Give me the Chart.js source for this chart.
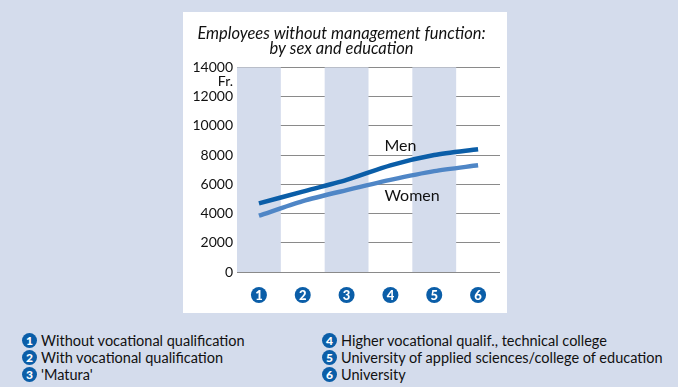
<!DOCTYPE html>
<html>
<head>
<meta charset="utf-8">
<script src="https://cdn.jsdelivr.net/npm/chart.js@4"></script>
<style>
body{margin:0;background:#d4dcec;width:678px;height:387px;position:relative;overflow:hidden;font-family:"Lato","Noto Sans",sans-serif;}
#panel{position:absolute;left:183px;top:12px;width:324px;height:301px;background:#fff;}
.legend{position:absolute;top:332px;font-size:14.5px;color:#111;}
.legend div{display:flex;align-items:center;height:17px;}
.num{display:inline-block;width:15px;height:15px;border-radius:50%;background:#0b5ea8;color:#fff;font-weight:900;font-size:12px;line-height:15px;text-align:center;margin-right:4px;flex:none;}
</style>
</head>
<body>
<div id="panel"><canvas id="myChart" width="324" height="301"></canvas></div>
<div id="legend1" class="legend" style="left:22px"></div>
<div id="legend2" class="legend" style="left:322px"></div>
<script>
// data
let categories = ['1','2','3','4','5','6'];
let categoryNames = ['Without vocational qualification','With vocational qualification',"'Matura'",
	'Higher vocational qualif., technical college','University of applied sciences/college of education','University'];
let men = [4700, 5500, 6300, 7300, 8000, 8400];
let women = [3850, 4850, 5600, 6300, 6900, 7300];
let yTicks = [0, 2000, 4000, 6000, 8000, 10000, 12000, 14000];

// legend below the panel
function fillLegend(el, from, to){
	let html = '';
	for(let i = from; i < to; i++){
		html += '<div><span class="num">' + categories[i] + '</span>' + categoryNames[i] + '</div>';
	}
	el.innerHTML = html;
}
fillLegend(document.querySelector('#legend1'), 0, 3);
fillLegend(document.querySelector('#legend2'), 3, 6);

// shaded columns, circled numbers, line labels
let decorate = {
	id: 'decorate',
	beforeDatasetsDraw(chart){
		let ctx = chart.ctx, area = chart.chartArea, x = chart.scales.x;
		let w = (area.right - area.left) / categories.length;
		ctx.save();
		ctx.fillStyle = '#d4dcec';
		for(let i = 0; i < categories.length; i += 2){
			ctx.fillRect(x.getPixelForValue(i) - w / 2, area.top, w, area.bottom - area.top);
		}
		ctx.restore();
	},
	afterDraw(chart){
		let ctx = chart.ctx, area = chart.chartArea, x = chart.scales.x, y = chart.scales.y;
		ctx.save();
		categories.forEach((c, i) => {
			let px = x.getPixelForValue(i);
			ctx.fillStyle = '#0b5ea8';
			ctx.beginPath();
			ctx.arc(px, area.bottom + 23, 8, 0, Math.PI * 2);
			ctx.fill();
			ctx.fillStyle = '#fff';
			ctx.font = '900 13px Lato, sans-serif';
			ctx.textAlign = 'center';
			ctx.textBaseline = 'middle';
			ctx.fillText(c, px, area.bottom + 23.5);
		});
		ctx.fillStyle = '#111';
		ctx.font = '14px Lato, sans-serif';
		ctx.textAlign = 'right';
		ctx.textBaseline = 'middle';
		ctx.fillText('Fr.', area.left - 4, y.getPixelForValue(14000) + 14);
		ctx.textAlign = 'left';
		ctx.font = '16px Lato, sans-serif';
		ctx.fillText('Men', x.getPixelForValue(3) - 6, y.getPixelForValue(8650));
		ctx.fillText('Women', x.getPixelForValue(3) - 6, y.getPixelForValue(5200));
		ctx.restore();
	}
};

let ctx = document.getElementById('myChart').getContext('2d');
let chart = new Chart(ctx, {
	type: 'line',
	data: {
		labels: categories,
		datasets: [{
			label: 'Men',
			data: men,
			borderColor: '#0b5ea8',
			borderWidth: 4.5,
			pointRadius: 0,
			tension: 0.25
		},{
			label: 'Women',
			data: women,
			borderColor: '#4f86c6',
			borderWidth: 4.5,
			pointRadius: 0,
			tension: 0.25
		}]
	},
	options: {
		responsive: false,
		animation: false,
		layout: {padding: {right: 7, bottom: 0, top: 0, left: 0}},
		plugins: {
			legend: {display: false},
			tooltip: {enabled: false},
			title: {
				display: true,
				text: ['Employees without management function:', 'by sex and education'],
				color: '#111',
				font: {family: 'Lato', size: 16.5, style: 'italic', weight: 'normal', lineHeight: 0.92},
				padding: {top: 14, bottom: 11}
			}
		},
		scales: {
			x: {
				offset: true,
				grid: {display: false},
				border: {display: false},
				ticks: {display: false},
				afterFit: s => { s.height = 41; }
			},
			y: {
				min: 0,
				max: 14000,
				afterBuildTicks: s => { s.ticks = yTicks.map(v => ({value: v})); },
				grid: {color: '#8a8a8a', drawTicks: false, lineWidth: 1},
				border: {display: false},
				ticks: {color: '#111', padding: 4, font: {family: 'Lato', size: 14}, callback: v => String(v)},
				afterFit: s => { s.width = 54; }
			}
		}
	},
	plugins: [decorate]
});
</script>
</body>
</html>
